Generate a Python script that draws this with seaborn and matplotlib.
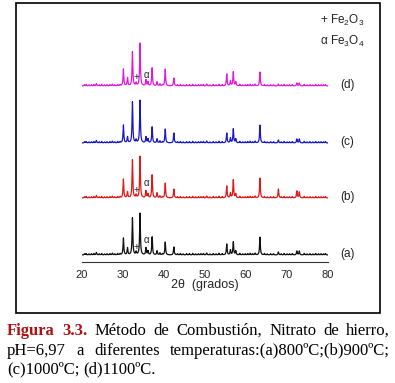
import numpy as np
import pandas as pd
import matplotlib
matplotlib.use("Agg")
import matplotlib.pyplot as plt
import seaborn as sns
from matplotlib.patches import Rectangle

# ---------------- data ----------------
peak_pos = [30.1, 31.1, 32.3, 33.2, 34.15, 35.6, 36.1, 37.1, 38.3, 40.3, 42.4,
            50.4, 55.3, 56.2, 56.9, 57.5, 63.4, 67.9, 72.4, 73.0]
heights_a = [17, 7, 37, 3, 42, 7, 4, 18, 4, 13, 8, 2, 11, 5, 13, 4, 18, 3, 4, 4]
heights_b = [19, 6, 38, 3, 42, 7, 4, 23, 5, 15, 9, 2, 12, 5, 18, 4, 20, 9, 7, 6]
heights_c = [18, 6, 41, 3, 43, 6, 4, 16, 4, 14, 10, 2, 10, 5, 14, 4, 18, 3, 4, 4]
heights_d = [17, 8, 34, 3, 43, 6, 4, 18, 4, 17, 8, 2, 12, 5, 14, 4, 14, 2, 3, 3]
minor_pos = [20.6, 21.0, 21.7, 22.3, 22.9, 23.5, 24.2, 24.8, 25.5, 26.1, 26.8,
             27.4, 28.0, 28.7, 29.3, 39.0, 39.6, 43.3, 44.0, 44.7, 45.5, 46.2,
             47.0, 47.7, 48.4, 49.0, 49.6, 51.2, 52.0, 52.7, 53.4, 54.2, 58.5,
             59.2, 59.8, 60.4, 61.0, 61.6, 62.2, 64.5, 65.2, 66.0, 66.7, 68.6,
             69.3, 70.0, 70.6, 71.3, 74.2, 74.9, 75.6, 76.3, 77.0, 77.7, 78.3,
             78.9, 79.4]
minor_h = [1.2, 1.5, 1.0, 1.2, 1.4, 2.5, 1.1, 1.5, 1.0, 1.2, 1.3,
           1.8, 1.0, 1.4, 1.2, 2.0, 1.1, 1.2, 1.5, 1.0, 1.3, 1.4,
           1.6, 1.1, 1.2, 1.3, 1.5, 1.0, 1.4, 1.1, 1.7, 1.3, 1.5,
           1.0, 1.2, 1.3, 1.6, 1.1, 1.8, 1.4, 1.0, 1.3, 1.2, 1.1,
           1.5, 1.0, 1.2, 1.4, 1.6, 1.1, 1.3, 1.0, 1.5, 1.2, 1.2,
           1.1, 1.4]
offsets = {"a": 7, "b": 64, "c": 119, "d": 176}
colors = {"a": "#111111", "b": "#e01818", "c": "#1818c8", "d": "#e018e0"}
labels = ["(a)", "(b)", "(c)", "(d)"]
xticks = [20, 30, 40, 50, 60, 70, 80]

sns.set_style("white")
plt.rcParams["font.family"] = ["Liberation Sans", "DejaVu Sans"]
plt.rcParams["mathtext.fontset"] = "custom"
plt.rcParams["mathtext.rm"] = "Liberation Sans"
plt.rcParams["mathtext.it"] = "Liberation Sans"

W, H = 395, 383
fig = plt.figure(figsize=(W / 100, H / 100), dpi=100)
fig.patch.set_facecolor("white")

ax = fig.add_axes([82 / W, 1 - 262 / H, 246 / W, 252 / H])
ax.set_facecolor("none")

tt = np.arange(20, 80.001, 0.03)
def profile(heights, base):
    y = np.zeros_like(tt) + base
    for p, h in zip(peak_pos, heights):
        y += h / (1 + ((tt - p) / 0.11) ** 2)
    for p, h in zip(minor_pos, minor_h):
        y += h / (1 + ((tt - p) / 0.10) ** 2)
    return y

series = {"a": heights_a, "b": heights_b, "c": heights_c, "d": heights_d}
for k, hs in series.items():
    df = pd.DataFrame({"x": tt, "y": profile(hs, offsets[k])})
    sns.lineplot(data=df, x="x", y="y", ax=ax, color=colors[k], lw=0.9)

ax.set_xlim(20, 80)
ax.set_ylim(0, 252)
for s in ["left", "right", "top"]:
    ax.spines[s].set_visible(False)
ax.spines["bottom"].set_linewidth(0.8)
ax.spines["bottom"].set_color("#333333")
ax.set_yticks([])
ax.set_xticks(xticks)
ax.set_xticklabels([str(v) for v in xticks], fontsize=8)
ax.set_xticks(np.arange(25, 80, 10), minor=True)
ax.tick_params(axis="x", which="major", direction="out", length=4, width=0.8, pad=2)
ax.tick_params(axis="x", which="minor", direction="out", length=2.5, width=0.6)
ax.set_xlabel("2θ  (grados)", fontsize=9, labelpad=-1)
ax.set_ylabel("")

# peak markers
for k, (yp, ya) in {"a": (15, 22), "b": (72, 79), "d": (185, 187)}.items():
    ax.text(33.2, yp, "+", fontsize=7, ha="center", va="center", color="#222222")
    ax.text(35.6, ya, "α", fontsize=7, ha="center", va="center", color="#222222")

# trace labels
for k, lab in zip(["a", "b", "c", "d"], labels):
    ax.text(83.0, offsets[k] + 1, lab, fontsize=8.5, ha="left", va="center",
            color="#222222", clip_on=False)

# legend
fig.text(320 / W, 1 - 20 / H, "+ Fe$_2$O$_3$", fontsize=8.5, ha="left", va="center", color="#222222")
fig.text(320 / W, 1 - 41 / H, "α Fe$_3$O$_4$", fontsize=8.5, ha="left", va="center", color="#222222")

# frame box
fig.patches.append(Rectangle((16 / W, 1 - 313 / H), 364 / W, 310 / H,
                             transform=fig.transFigure, fill=False,
                             edgecolor="black", lw=1.2))

# caption
serif = dict(family="Liberation Serif", fontsize=12, va="baseline", ha="left")
red = dict(serif, color="#b01010", weight="bold")
blk = dict(serif, color="black")

def justify(items, ybase, x0, x1, justify_line=True, gap_fixed=3.0):
    texts = [fig.text(0, 1 - ybase / H, w, **st) for w, st in items]
    fig.canvas.draw()
    r = fig.canvas.get_renderer()
    widths = [t.get_window_extent(r).width for t in texts]
    if justify_line and len(texts) > 1:
        gap = (x1 - x0 - sum(widths)) / (len(texts) - 1)
    else:
        gap = gap_fixed
    x = x0
    for t, w in zip(texts, widths):
        t.set_x(x / W)
        x += w + gap

line1 = [("Figura", red), ("3.3.", red), ("Método", blk), ("de", blk),
         ("Combustión,", blk), ("Nitrato", blk), ("de", blk), ("hierro,", blk)]
line2 = [("pH=6,97", blk), ("a", blk), ("diferentes", blk),
         ("temperaturas:(a)800ºC;(b)900ºC;", blk)]
line3 = [("(c)1000ºC;", blk), ("(d)1100ºC.", blk)]
justify(line1, 335, 7, 390)
justify(line2, 355, 7, 390)
justify(line3, 373, 7, 390, justify_line=False, gap_fixed=3.5)

fig.savefig("out.png", dpi=100)
